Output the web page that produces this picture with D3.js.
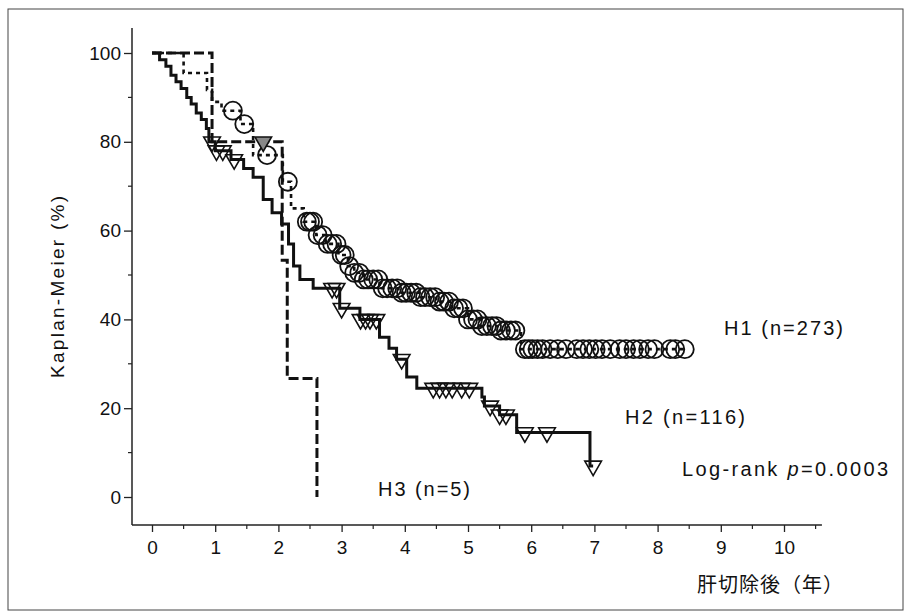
<!DOCTYPE html>
<html>
<head>
<meta charset="utf-8">
<script src="https://cdn.jsdelivr.net/npm/d3@7/dist/d3.min.js"></script>
<style>
  body { margin: 0; background: #fff; }
  svg { display: block; font-family: "Liberation Sans", Arial, sans-serif; }
</style>
</head>
<body>
<div id="chart"></div>
<script>
// --- Data ---
const xTicks = [0, 1, 2, 3, 4, 5, 6, 7, 8, 9, 10];
const yTicks = [0, 20, 40, 60, 80, 100];

// H1 (n=273): short dashes, circles for censored cases
const h1Time = [0, 0.5, 0.87, 0.95, 1.1, 1.4, 1.6, 2.07, 2.2, 2.4, 2.6, 2.75, 2.95, 3.1, 3.2, 3.35, 3.6, 3.9, 4.25, 4.5, 4.75, 5.0, 5.2, 5.5, 5.84, 8.45];
const h1Surv = [100, 95.5, 91.7, 89, 87, 84, 77, 71, 65, 62, 59, 57, 54.5, 52, 50.5, 49, 47, 46, 45, 44, 42.5, 40, 38.5, 37.5, 33.3, 33.3];
const h1Censor = [1.28, 1.46, 1.82, 2.15, 2.45, 2.5, 2.55, 2.62, 2.7, 2.78, 2.85, 2.92, 3.0, 3.05, 3.12, 3.2, 3.28, 3.35, 3.42, 3.5,
  3.58, 3.65, 3.72, 3.8, 3.88, 3.95, 4.02, 4.1, 4.18, 4.25, 4.32, 4.4, 4.48, 4.55, 4.62, 4.7, 4.78, 4.85, 4.92, 5.0,
  5.08, 5.15, 5.22, 5.3, 5.38, 5.45, 5.52, 5.6, 5.68, 5.75, 5.9, 5.96, 6.02, 6.1, 6.18, 6.3, 6.42, 6.55, 6.72, 6.82,
  6.92, 7.02, 7.12, 7.25, 7.4, 7.5, 7.62, 7.72, 7.85, 7.95, 8.2, 8.28, 8.43];

// H2 (n=116): solid, triangles for censored cases
const h2Time = [0, 0.12, 0.22, 0.3, 0.38, 0.46, 0.55, 0.62, 0.7, 0.78, 0.86, 0.9, 1.0, 1.25, 1.45, 1.6, 1.76, 1.9, 2.05, 2.16, 2.24, 2.34, 2.55, 2.97, 3.29, 3.6, 3.75, 3.87, 4.03, 4.19, 5.22, 5.26, 5.5, 5.77, 6.93, 6.98];
const h2Surv = [100, 98.5, 97, 95, 93.5, 92, 90, 88.5, 86.5, 85, 83, 80, 78, 76, 74, 72, 67, 64, 61.5, 57, 52, 49, 47, 42.5, 40, 36, 33.5, 31, 27, 24.5, 22.5, 20.5, 18.5, 14.5, 7, 7];
const h2Censor = [0.95, 1.02, 1.12, 1.3, 2.85, 2.92, 3.0, 3.3, 3.38, 3.45, 3.55, 3.95, 4.45, 4.55, 4.65, 4.75, 4.9, 5.02, 5.35, 5.5, 5.6, 5.9, 6.25, 6.98];

// H3 (n=5): long dashes
const h3Time = [0, 0.95, 2.06, 2.14, 2.61];
const h3Surv = [100, 80, 53.3, 26.7, 0];
const h3Censor = [1.76];

const groupLabels = ["H1 (n=273)", "H2 (n=116)", "H3 (n=5)"];
const yTitle = "Kaplan-Meier (%)";
const xTitle = "肝切除後（年）";

// --- Setup ---
const W = 907, H = 612;
const svg = d3.select("#chart").append("svg").attr("width", W).attr("height", H);

svg.append("rect")
  .attr("x", 8).attr("y", 9).attr("width", 895).attr("height", 601)
  .attr("fill", "none").attr("stroke", "#444").attr("stroke-width", 1);

const x = d3.scaleLinear().domain([0, 10]).range([152, 784]);
const y = d3.scaleLinear().domain([0, 100]).range([497, 53]);
const axisY = 525, axisX = 132;

// axes lines
svg.append("line").attr("x1", axisX).attr("x2", x(10.6)).attr("y1", axisY).attr("y2", axisY)
  .attr("stroke", "#222").attr("stroke-width", 1.5);
svg.append("line").attr("x1", axisX).attr("x2", axisX).attr("y1", axisY).attr("y2", 28)
  .attr("stroke", "#222").attr("stroke-width", 1.5);

// x ticks
const xAxis = d3.axisBottom(x).tickValues(xTicks).tickSize(7).tickFormat(d3.format("d"));
const gx = svg.append("g").attr("transform", `translate(0,${axisY})`).call(xAxis);
gx.select(".domain").remove();
gx.selectAll("line").attr("stroke", "#222").attr("stroke-width", 1.3);
gx.selectAll("text").attr("font-size", 19).attr("fill", "#111").attr("dy", "1.0em")
  .attr("font-family", "'Liberation Sans', Arial, sans-serif");
const xMinor = d3.range(0.5, 10.6, 1);
svg.append("g").selectAll("line").data(xMinor).join("line")
  .attr("x1", d => x(d)).attr("x2", d => x(d)).attr("y1", axisY).attr("y2", axisY + 4)
  .attr("stroke", "#222").attr("stroke-width", 1.2);

// y ticks
const yAxis = d3.axisLeft(y).tickValues(yTicks).tickSize(8).tickPadding(3);
const gy = svg.append("g").attr("transform", `translate(${axisX},0)`).call(yAxis);
gy.select(".domain").remove();
gy.selectAll("line").attr("stroke", "#222").attr("stroke-width", 1.3);
gy.selectAll("text").attr("font-size", 19).attr("fill", "#111")
  .attr("font-family", "'Liberation Sans', Arial, sans-serif");
const yMinor = d3.range(10, 100, 20);
svg.append("g").selectAll("line").data(yMinor).join("line")
  .attr("x1", axisX - 4).attr("x2", axisX).attr("y1", d => y(d)).attr("y2", d => y(d))
  .attr("stroke", "#222").attr("stroke-width", 1.2);

// --- Curves ---
const line = d3.line().x(d => x(d[0])).y(d => y(d[1])).curve(d3.curveStepAfter);
const pts = (t, s) => t.map((v, i) => [v, s[i]]);
function survAt(t, s, time) {
  let v = s[0];
  for (let i = 0; i < t.length; i++) if (t[i] <= time) v = s[i];
  return v;
}

svg.append("path").datum(pts(h3Time, h3Surv)).attr("d", line)
  .attr("fill", "none").attr("stroke", "#111").attr("stroke-width", 3).attr("stroke-dasharray", "10,4");
svg.append("path").datum(pts(h1Time, h1Surv)).attr("d", line)
  .attr("fill", "none").attr("stroke", "#111").attr("stroke-width", 2.6).attr("stroke-dasharray", "4,4");
svg.append("path").datum(pts(h2Time, h2Surv)).attr("d", line)
  .attr("fill", "none").attr("stroke", "#111").attr("stroke-width", 3);

// circles (H1)
svg.append("g").selectAll("circle").data(h1Censor).join("circle")
  .attr("cx", d => x(d)).attr("cy", d => y(survAt(h1Time, h1Surv, d)))
  .attr("r", 9).attr("fill", "none").attr("stroke", "#111").attr("stroke-width", 1.8);

// triangles (H2, H3)
const tri = d3.symbol().type(d3.symbolTriangle).size(120);
svg.append("g").selectAll("path").data(h2Censor).join("path")
  .attr("transform", d => `translate(${x(d)},${y(survAt(h2Time, h2Surv, d))}) rotate(180)`)
  .attr("d", tri).attr("fill", "none").attr("stroke", "#111").attr("stroke-width", 1.6);
svg.append("g").selectAll("path").data(h3Censor).join("path")
  .attr("transform", d => `translate(${x(d)},${y(survAt(h3Time, h3Surv, d))}) rotate(180)`)
  .attr("d", tri).attr("fill", "#888").attr("stroke", "#111").attr("stroke-width", 1.6);

// --- Text ---
const txt = (s, px, py, size, len) => svg.append("text")
  .attr("x", px).attr("y", py).attr("font-size", size).attr("fill", "#111")
  .attr("dominant-baseline", "central")
  .attr("textLength", len).attr("lengthAdjust", "spacing").text(s);

txt(groupLabels[0], 724, 328, 20, 119);
txt(groupLabels[1], 625, 417, 20, 120);
txt(groupLabels[2], 378, 489, 20, 92);

const lr = svg.append("text").attr("x", 682).attr("y", 469).attr("font-size", 20).attr("fill", "#111")
  .attr("dominant-baseline", "central").attr("textLength", 206).attr("lengthAdjust", "spacing");
lr.append("tspan").text("Log-rank  ");
lr.append("tspan").attr("font-style", "italic").text("p");
lr.append("tspan").text("=0.0003");

svg.append("text")
  .attr("transform", "translate(57,287) rotate(-90)")
  .attr("text-anchor", "middle").attr("dominant-baseline", "central")
  .attr("font-size", 19).attr("fill", "#111")
  .attr("textLength", 182).attr("lengthAdjust", "spacing")
  .text(yTitle);

svg.append("text")
  .attr("x", 697).attr("y", 583).attr("font-size", 20).attr("fill", "#111")
  .attr("font-family", "'Noto Sans CJK JP', sans-serif")
  .attr("dominant-baseline", "central")
  .attr("textLength", 146).attr("lengthAdjust", "spacing")
  .text(xTitle);
</script>
</body>
</html>
